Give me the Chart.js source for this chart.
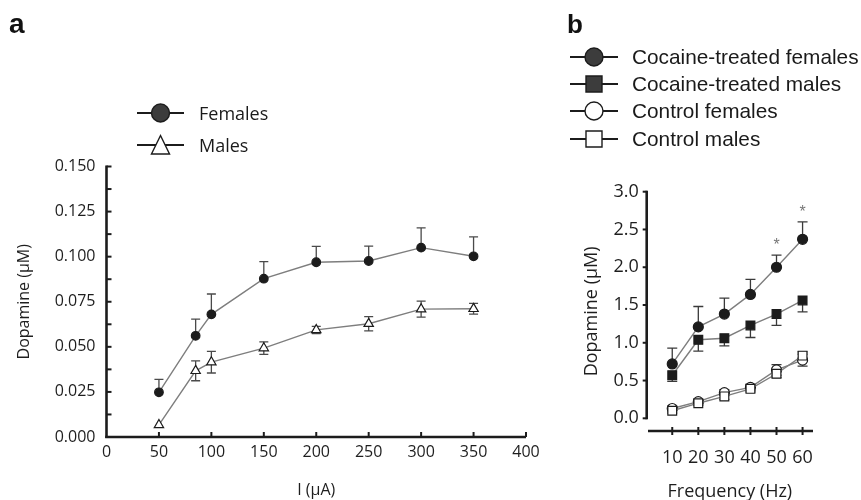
<!DOCTYPE html>
<html><head><meta charset="utf-8">
<script src="https://cdn.jsdelivr.net/npm/chart.js@4.4.1/dist/chart.umd.min.js"></script>
<style>
html,body{margin:0;padding:0;background:#fff;width:861px;height:500px;overflow:hidden}
#ca{position:absolute;left:0;top:0}
#cb{position:absolute;left:560px;top:0}
</style></head><body>
<canvas id="ca" width="560" height="500"></canvas>
<canvas id="cb" width="301" height="500"></canvas>
<script>
// ---------- Panel a data ----------
const currentUA = [50, 85, 100, 150, 200, 250, 300, 350];
const femalesDA = [0.0248, 0.0561, 0.0680, 0.0878, 0.0969, 0.0976, 0.1050, 0.1002];
const femalesErr = [0.0072, 0.0093, 0.0113, 0.0094, 0.0088, 0.0083, 0.0110, 0.0108];
const malesDA = [0.0067, 0.0367, 0.0415, 0.0493, 0.0594, 0.0628, 0.0709, 0.0711];
const malesErr = [0.0000, 0.0055, 0.0060, 0.0035, 0.0020, 0.0040, 0.0044, 0.0030];
const xTicksA = [0, 50, 100, 150, 200, 250, 300, 350, 400];
const yTicksA = [0, 0.0125, 0.025, 0.0375, 0.05, 0.0625, 0.075, 0.0875, 0.1, 0.1125, 0.125, 0.1375, 0.15];
const yLabelsA = [0, 0.025, 0.05, 0.075, 0.1, 0.125, 0.15];
const legendA = ['Females', 'Males'];

// ---------- Panel b data ----------
const freqHz = [10, 20, 30, 40, 50, 60];
const cocFemales = [0.72, 1.21, 1.38, 1.64, 2.00, 2.37];
const cocFemalesErr = [0.21, 0.27, 0.21, 0.20, 0.16, 0.23];
const cocMales = [0.57, 1.04, 1.06, 1.23, 1.38, 1.56];
const cocMalesErr = [0.08, 0.15, 0.10, 0.16, 0.15, 0.15];
const ctlFemales = [0.13, 0.22, 0.34, 0.41, 0.64, 0.77];
const ctlFemalesErr = [0.03, 0.03, 0.04, 0.04, 0.07, 0.08];
const ctlMales = [0.10, 0.20, 0.29, 0.39, 0.59, 0.83];
const ctlMalesErr = [0.03, 0.03, 0.04, 0.04, 0.05, 0.05];
const xTicksB = [10, 20, 30, 40, 50, 60];
const yTicksB = [0, 0.5, 1.0, 1.5, 2.0, 2.5, 3.0];
const sigHz = [50, 60];
const sigLevel = [2.33, 2.76];
const legendB = ['Cocaine-treated females', 'Cocaine-treated males', 'Control females', 'Control males'];

const TICKFONT = 'Open Sans';
const INK = '#1c1c1c';
const LINEGRAY = '#7e7e7e';

function pts(xs, ys) { return xs.map((x, i) => ({x: x, y: ys[i]})); }

function drawMarker(ctx, kind, x, y, s, fill) {
  ctx.save();
  ctx.lineWidth = 1.4;
  ctx.strokeStyle = INK;
  ctx.fillStyle = fill;
  ctx.beginPath();
  if (kind === 'circle') ctx.arc(x, y, s, 0, Math.PI * 2);
  else if (kind === 'rect') ctx.rect(x - s, y - s, 2 * s, 2 * s);
  else if (kind === 'triangle') { ctx.moveTo(x, y - s); ctx.lineTo(x + s * 0.95, y + s * 0.95); ctx.lineTo(x - s * 0.95, y + s * 0.95); ctx.closePath(); }
  ctx.fill(); ctx.stroke();
  ctx.restore();
}

const sciPlugin = {
  id: 'sci',
  beforeDatasetsDraw(chart) {
    const o = chart.options.plugins.sci;
    const ctx = chart.ctx;
    const xs = chart.scales.x, ys = chart.scales.y;
    // error bars
    ctx.save();
    ctx.strokeStyle = o.errColor;
    ctx.lineWidth = 1.3;
    chart.data.datasets.forEach(ds => {
      ds.data.forEach((p, i) => {
        const px = xs.getPixelForValue(p.x), py = ys.getPixelForValue(p.y);
        const e = ds.errVals ? ds.errVals[i] : 0;
        if (!e) return;
        const ends = [];
        if (ds.errDir !== 'down') ends.push(ys.getPixelForValue(p.y + e));
        if (ds.errDir !== 'up') ends.push(ys.getPixelForValue(p.y - e));
        ends.forEach(ey => {
          ctx.beginPath(); ctx.moveTo(px, py); ctx.lineTo(px, ey);
          ctx.moveTo(px - o.cap, ey); ctx.lineTo(px + o.cap, ey); ctx.stroke();
        });
      });
    });
    ctx.restore();
    // axes
    ctx.save();
    ctx.strokeStyle = INK;
    ctx.lineWidth = 2.6;
    ctx.lineCap = 'butt';
    const yTop = ys.getPixelForValue(o.yAxisMax), yBot = ys.getPixelForValue(o.yAxisMin);
    const xl = chart.chartArea.left;
    ctx.beginPath(); ctx.moveTo(xl, yTop - 1); ctx.lineTo(xl, yBot + 1); ctx.stroke();
    const xAxisY = o.xAxisY != null ? o.xAxisY : chart.chartArea.bottom;
    ctx.beginPath(); ctx.moveTo(o.xAxisFrom != null ? o.xAxisFrom : xl - 1.3, xAxisY); ctx.lineTo(chart.chartArea.right, xAxisY); ctx.stroke();
    ctx.lineWidth = 2;
    o.yTickVals.forEach(v => {
      const py = ys.getPixelForValue(v);
      ctx.beginPath(); ctx.moveTo(xl, py); ctx.lineTo(xl + o.yTickLen, py); ctx.stroke();
    });
    o.xTickVals.forEach(v => {
      const px = xs.getPixelForValue(v);
      ctx.beginPath(); ctx.moveTo(px, xAxisY + o.xTickDown); ctx.lineTo(px, xAxisY - o.xTickUp); ctx.stroke();
    });
    ctx.restore();
  },
  afterDraw(chart) {
    const o = chart.options.plugins.sci;
    const ctx = chart.ctx;
    const xs = chart.scales.x, ys = chart.scales.y;
    ctx.save();
    // panel letter
    ctx.fillStyle = '#111';
    ctx.font = 'bold ' + o.letterSize + 'px "Liberation Sans", Arial, sans-serif';
    ctx.textBaseline = 'alphabetic';
    ctx.fillText(o.letter, o.letterX, o.letterY);
    // significance marks
    if (o.sigX) {
      ctx.fillStyle = '#777';
      ctx.font = '16px "Liberation Sans", Arial, sans-serif';
      ctx.textAlign = 'center';
      ctx.textBaseline = 'middle';
      o.sigX.forEach((x, i) => ctx.fillText('*', xs.getPixelForValue(x), ys.getPixelForValue(o.sigY[i]) + 3));
    }
    // legend
    const L = o.legend;
    ctx.textAlign = 'left';
    ctx.textBaseline = 'alphabetic';
    ctx.font = L.fontSize + 'px ' + L.font;
    L.labels.forEach((lab, i) => {
      const y = L.rows[i];
      ctx.strokeStyle = INK; ctx.lineWidth = 2;
      ctx.beginPath(); ctx.moveTo(L.x0, y); ctx.lineTo(L.x1, y); ctx.stroke();
      drawMarker(ctx, L.kinds[i], (L.x0 + L.x1) / 2, y, L.size[i], L.fills[i]);
      ctx.fillStyle = '#1a1a1a';
      ctx.fillText(lab, L.tx, y + L.base);
    });
    ctx.restore();
  }
};

function lineDs(label, xs, ys, style, radius, fill, err, dir) {
  return {
    label: label, data: pts(xs, ys),
    borderColor: LINEGRAY, borderWidth: 1.4, tension: 0,
    pointStyle: style, pointRadius: radius, pointHoverRadius: radius,
    pointBackgroundColor: fill, pointBorderColor: INK, pointBorderWidth: 1.2,
    errVals: err, errDir: dir
  };
}

// ---------- Chart a ----------
new Chart(document.getElementById('ca'), {
  type: 'line',
  data: { datasets: [
    lineDs(legendA[0], currentUA, femalesDA, 'circle', 4.3, INK, femalesErr, 'up'),
    lineDs(legendA[1], currentUA, malesDA, 'triangle', 5.4, '#ffffff', malesErr, 'both')
  ]},
  options: {
    responsive: false, animation: false, devicePixelRatio: 1,
    layout: { padding: { left: 0, right: 34, top: 166.5, bottom: 0 } },
    plugins: {
      legend: { display: false }, tooltip: { enabled: false },
      sci: {
        errColor: '#4a4a4a', cap: 4.5,
        yAxisMin: 0, yAxisMax: 0.15, yTickVals: yTicksA, yTickLen: 5,
        xTickVals: xTicksA.slice(1), xTickUp: 5, xTickDown: 0,
        letter: 'a', letterX: 9, letterY: 33, letterSize: 28,
        legend: { labels: legendA, rows: [113, 145], x0: 137, x1: 184, tx: 199, base: 7,
          kinds: ['circle', 'triangle'], size: [9, 9.5], fills: ['#3c3c3c', '#ffffff'],
          font: '"Open Sans", sans-serif', fontSize: 18 }
      }
    },
    scales: {
      x: {
        type: 'linear', min: 0, max: 400,
        afterBuildTicks: s => { s.ticks = xTicksA.map(v => ({value: v})); },
        afterFit: s => { s.height = 63; },
        grid: { display: false, drawTicks: false }, border: { display: false },
        ticks: { padding: 6, autoSkip: false, maxRotation: 0, color: '#1e1e1e', font: { family: TICKFONT, size: 16 } },
        title: { display: true, text: 'I (μA)', color: '#1e1e1e', font: { family: TICKFONT, size: 16 }, padding: { top: 0, bottom: 0 } }
      },
      y: {
        type: 'linear', min: 0, max: 0.15,
        afterBuildTicks: s => { s.ticks = yTicksA.map(v => ({value: v})); },
        afterFit: s => { s.width = 106.5; },
        grid: { display: false, drawTicks: false }, border: { display: false },
        ticks: { padding: 11, autoSkip: false, color: '#1e1e1e', font: { family: TICKFONT, size: 16 },
          callback: v => yLabelsA.some(l => Math.abs(l - v) < 1e-9) ? v.toFixed(3) : '' },
        title: { display: true, text: 'Dopamine (μM)', color: '#1e1e1e', font: { family: TICKFONT, size: 16 }, padding: { top: 15, bottom: 0 } }
      }
    }
  },
  plugins: [sciPlugin]
});

// ---------- Chart b ----------
new Chart(document.getElementById('cb'), {
  type: 'line',
  data: { datasets: [
    lineDs(legendB[3], freqHz, ctlMales, 'rect', 6.2, '#ffffff', ctlMalesErr, 'both'),
    lineDs(legendB[2], freqHz, ctlFemales, 'circle', 5, '#ffffff', ctlFemalesErr, 'both'),
    lineDs(legendB[1], freqHz, cocMales, 'rect', 6.2, INK, cocMalesErr, 'down'),
    lineDs(legendB[0], freqHz, cocFemales, 'circle', 5, INK, cocFemalesErr, 'up')
  ]},
  options: {
    responsive: false, animation: false, devicePixelRatio: 1,
    layout: { padding: { left: 0, right: 48, top: 191.7, bottom: 0 } },
    plugins: {
      legend: { display: false }, tooltip: { enabled: false },
      sci: {
        errColor: '#3a3a3a', cap: 5,
        yAxisMin: 0, yAxisMax: 3.0, yTickVals: yTicksB, yTickLen: -4,
        xTickVals: xTicksB, xTickUp: 4, xTickDown: 4, xAxisFrom: 88,
        sigX: sigHz, sigY: sigLevel,
        letter: 'b', letterX: 7, letterY: 33, letterSize: 26,
        legend: { labels: legendB, rows: [57, 84, 111, 139], x0: 10, x1: 58, tx: 72, base: 7,
          kinds: ['circle', 'rect', 'circle', 'rect'], size: [9, 8, 9, 8], fills: ['#3c3c3c', '#3c3c3c', '#ffffff', '#ffffff'],
          font: '"Liberation Sans", Arial, sans-serif', fontSize: 20.8 }
      }
    },
    scales: {
      x: {
        type: 'linear', min: 0.2, max: 64,
        afterBuildTicks: s => { s.ticks = xTicksB.map(v => ({value: v})); },
        afterFit: s => { s.height = 69; },
        grid: { display: false, drawTicks: false }, border: { display: false },
        ticks: { padding: 16, autoSkip: false, maxRotation: 0, color: '#1e1e1e', font: { family: TICKFONT, size: 18 } },
        title: { display: true, text: 'Frequency (Hz)', color: '#1e1e1e', font: { family: TICKFONT, size: 18 }, padding: { top: 0, bottom: -3 } }
      },
      y: {
        type: 'linear', min: -0.168, max: 3.0,
        afterBuildTicks: s => { s.ticks = yTicksB.map(v => ({value: v})); },
        afterFit: s => { s.width = 86.7; },
        grid: { display: false, drawTicks: false }, border: { display: false },
        ticks: { padding: 8, autoSkip: false, color: '#1e1e1e', font: { family: TICKFONT, size: 18 },
          callback: v => v.toFixed(1) },
        title: { display: true, text: 'Dopamine (μM)', color: '#1e1e1e', font: { family: TICKFONT, size: 18 }, padding: { top: 21, bottom: 0 } }
      }
    }
  },
  plugins: [sciPlugin]
});
</script>
</body></html>
